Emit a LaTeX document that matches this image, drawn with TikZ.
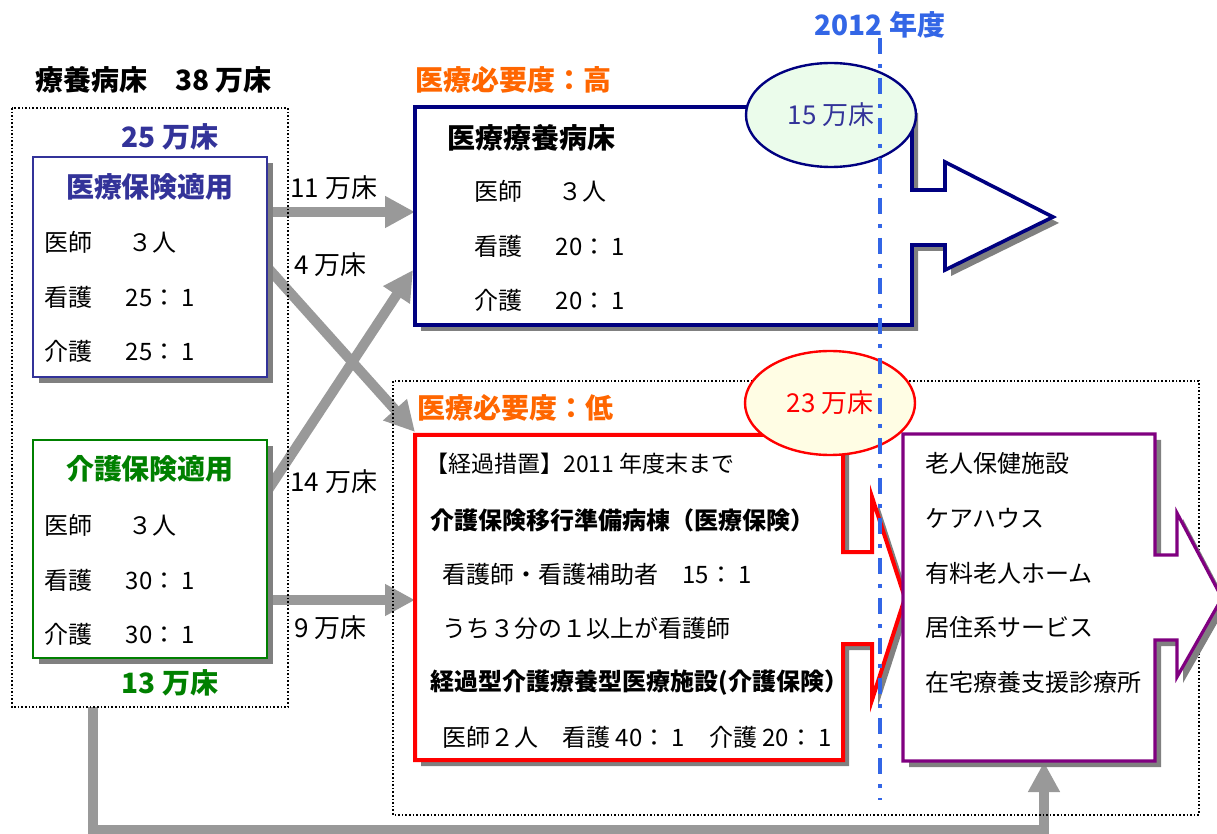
\documentclass[tikz,border=0pt]{standalone}
\usepackage{fontspec}
\setmainfont{Noto Sans CJK JP}
\usetikzlibrary{arrows.meta,shapes.geometric}

\definecolor{navy}{RGB}{0,0,128}
\definecolor{iryo}{RGB}{51,51,153}
\definecolor{kaigo}{RGB}{0,128,0}
\definecolor{hitsuyo}{RGB}{255,102,0}
\definecolor{nendo}{RGB}{51,102,230}
\definecolor{ya}{RGB}{153,153,153}
\definecolor{kage}{RGB}{128,128,128}
\definecolor{shisetsu}{RGB}{128,0,128}
\definecolor{midori}{RGB}{235,252,235}
\definecolor{kiiro}{RGB}{255,253,228}

\begin{document}
\begin{tikzpicture}[x=0.5pt,y=-0.5pt,
    every node/.style={inner sep=0pt,anchor=west},
    hon/.style={font=\fontsize{12}{14}\selectfont},
    futo/.style={font=\fontsize{12}{14}\selectfont\bfseries},
    midashi/.style={font=\fontsize{14}{16}\selectfont\bfseries},
    kazu/.style={font=\fontsize{13}{15}\selectfont},
    waku/.style={densely dotted,line width=0.8pt},
    ya/.style={draw=ya,line width=5pt,-{Triangle[width=15pt,length=15pt]}},
    kagebox/.style={fill=kage,shift={(6,6)}},
    maru/.style={ellipse,anchor=center,line width=1.2pt,minimum width=85pt,minimum height=52pt,font=\fontsize{13}{15}\selectfont}]
    \useasboundingbox (0,0) rectangle (1217,834);

    \coordinate (ib-r1) at (267,212);
    \coordinate (hb-l1) at (415,212);
    \coordinate (ib-r2) at (268,268);
    \coordinate (rb-tl) at (415,432);
    \coordinate (kb-r1) at (268,490);
    \coordinate (hb-l2) at (413,270);
    \coordinate (kb-r2) at (267,600);
    \coordinate (rb-l) at (415,600);
    \coordinate (waku-b) at (93,707);
    \coordinate (sb-b) at (1044,762);
    \draw[ya] (ib-r1) -- (hb-l1);
    \draw[ya] (ib-r2) -- (rb-tl);
    \draw[ya] (kb-r1) -- (hb-l2);
    \draw[ya] (kb-r2) -- (rb-l);
    \draw[ya,line join=miter] (waku-b) -- ++(0,123) -| (sb-b);

    \draw[waku] (12,108) rectangle (288,707);
    \draw[waku] (393,381) rectangle (1199,815);

    \fill[kagebox] (33,157) rectangle (267,377);
    \draw[iryo,fill=white,line width=1.2pt] (33,157) rectangle (267,377);
    \fill[kagebox] (33,440) rectangle (267,658);
    \draw[kaigo,fill=white,line width=1.2pt] (33,440) rectangle (267,658);

    \fill[kagebox] (415,107) -- (912,107) -- (912,190) -- (945,190) -- (945,162) -- (1053,217)
        -- (945,270) -- (945,245) -- (912,245) -- (912,325) -- (415,325) -- cycle;
    \draw[navy,fill=white,line width=1.8pt] (415,107) -- (912,107) -- (912,190) -- (945,190) -- (945,162) -- (1053,217)
        -- (945,270) -- (945,245) -- (912,245) -- (912,325) -- (415,325) -- cycle;
    \fill[kagebox] (415,435) -- (843,435) -- (843,552) -- (872,552) -- (872,497) -- (905,598)
        -- (872,700) -- (872,644) -- (843,644) -- (843,760) -- (415,760) -- cycle;
    \draw[red,fill=white,line width=2pt] (415,435) -- (843,435) -- (843,552) -- (872,552) -- (872,497) -- (905,598)
        -- (872,700) -- (872,644) -- (843,644) -- (843,760) -- (415,760) -- cycle;
    \fill[kagebox] (903,434) -- (1155,434) -- (1155,555) -- (1177,555) -- (1177,513) -- (1222,598)
        -- (1177,677) -- (1177,640) -- (1155,640) -- (1155,761) -- (903,761) -- cycle;
    \draw[shisetsu,fill=white,line width=1.6pt] (903,434) -- (1155,434) -- (1155,555) -- (1177,555) -- (1177,513) -- (1222,598)
        -- (1177,677) -- (1177,640) -- (1155,640) -- (1155,761) -- (903,761) -- cycle;

    \node[maru,draw=navy,fill=midori,text=iryo] (maru15) at (831,115) {15 万床};
    \node[maru,draw=red,fill=kiiro,text=red] (maru23) at (830,403) {23 万床};

    \node[midashi] (ryoyo) at (35,80) {療養病床\hspace{1em}38 万床};
    \node[midashi,iryo,anchor=center] (iryo25) at (170,137) {25 万床};
    \node[midashi,iryo,anchor=center] (iryotekiyo) at (150,187) {医療保険適用};
    \node[hon] (ishi1) at (44,242) {医師\hspace{1.5em}３人};
    \node[hon] (kango1) at (44,297) {看護\hspace{1.4em}25： 1};
    \node[hon] (kaigo1) at (44,351) {介護\hspace{1.4em}25： 1};
    \node[midashi,kaigo,anchor=center] (kaigotekiyo) at (150,469) {介護保険適用};
    \node[hon] (ishi2) at (44,525) {医師\hspace{1.5em}３人};
    \node[hon] (kango2) at (44,580) {看護\hspace{1.4em}30： 1};
    \node[hon] (kaigo2) at (44,634) {介護\hspace{1.4em}30： 1};
    \node[midashi,kaigo,anchor=center] (kaigo13) at (170,683) {13 万床};

    \node[kazu] (ya11) at (290,188) {11 万床};
    \node[kazu] (ya4) at (294,265) {4 万床};
    \node[kazu] (ya14) at (290,482) {14 万床};
    \node[kazu] (ya9) at (294,628) {9 万床};

    \node[midashi,hitsuyo] (takai) at (415,80) {医療必要度：高};
    \node[midashi] (ryoyobyosho) at (447,138) {医療療養病床};
    \node[hon] (ishi3) at (474,191) {医師\hspace{1.5em}３人};
    \node[hon] (kango3) at (474,246) {看護\hspace{1.4em}20： 1};
    \node[hon] (kaigo3) at (474,300) {介護\hspace{1.4em}20： 1};

    \node[midashi,hitsuyo] (hikui) at (417,408) {医療必要度：低};
    \node[hon,font=\fontsize{11.5}{14}\selectfont] (keika) at (425,464) {【経過措置】2011 年度末まで};
    \node[futo] (junbi) at (430,520) {介護保険移行準備病棟（医療保険）};
    \node[hon] (hojo) at (442,574) {看護師・看護補助者\hspace{1em}15： 1};
    \node[hon] (uchi) at (442,628) {うち３分の１以上が看護師};
    \node[futo] (keikagata) at (430,683) {経過型介護療養型医療施設(介護保険）};
    \node[hon] (haichi) at (442,737) {医師２人\hspace{1em}看護 40： 1\hspace{1em}介護 20： 1};

    \node[hon] (roken) at (925,463) {老人保健施設};
    \node[hon] (care) at (925,518) {ケアハウス};
    \node[hon] (yuryo) at (925,573) {有料老人ホーム};
    \node[hon] (kyoju) at (925,627) {居住系サービス};
    \node[hon] (zaitaku) at (925,682) {在宅療養支援診療所};

    \coordinate (sen-ue) at (880,38);
    \coordinate (sen-shita) at (880,800);
    \draw[nendo,line width=1.8pt,dash pattern=on 8pt off 5pt on 2pt off 5pt] (sen-ue) -- (sen-shita);
    \node[midashi,nendo,anchor=center] (nendo2012) at (880,25) {2012 年度};
\end{tikzpicture}
\end{document}
